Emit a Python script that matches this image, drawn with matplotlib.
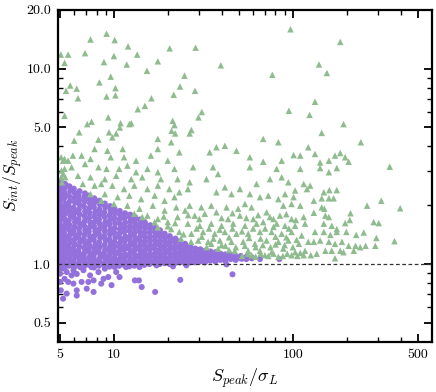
import numpy as np
import matplotlib
matplotlib.use("Agg")
import matplotlib.pyplot as plt
from matplotlib.ticker import FixedLocator, FixedFormatter, NullFormatter

plt.rcParams["font.family"] = "serif"
plt.rcParams["font.serif"] = ["cmr10"]
plt.rcParams["mathtext.fontset"] = "cm"
plt.rcParams["axes.unicode_minus"] = False

# resolved sources (S_peak/sigma, S_int/S_peak)
resolved = [
    (9.1, 15.1), (7.4, 14.1), (10.1, 14.0), (12.0, 13.0), (20.5, 12.7), (5.05, 11.8), (5.55, 11.8),
    (6.9, 12.0), (10.0, 11.6), (13.5, 11.8), (5.3, 10.7), (8.8, 10.8), (11.8, 10.5), (17.6, 10.9),
    (15.3, 9.75), (9.6, 9.1), (8.3, 8.5), (5.7, 8.2), (5.4, 7.7), (6.2, 7.9), (10.2, 7.95),
    (6.3, 7.05), (9.1, 7.2), (10.2, 7.3), (16.2, 7.05), (14.9, 6.45), (13.6, 6.2), (21.6, 7.35),
    (23.4, 8.1), (24.8, 9.2), (5.3, 5.74), (9.3, 5.63), (7.5, 5.35), (7.1, 5.2), (10.9, 5.26),
    (12.5, 5.26), (12.2, 5.2), (10.8, 5.0), (6.4, 4.72), (9.4, 4.72), (10.3, 4.66), (21.3, 5.41),
    (21.8, 5.14), (21.0, 4.81), (22.0, 4.66),
    (97, 15.9), (28.6, 12.8), (39.6, 10.4), (76.8, 9.3), (28.4, 7.7), (31.0, 6.0), (29.7, 5.63),
    (95, 6.09), (124, 5.8), (27.1, 4.85), (26.5, 4.66),
    (184, 13.7), (140, 10.5), (155, 9.5), (133, 6.77), (192, 5.2), (145, 4.69),
    (6.0, 4.28), (8.2, 4.33), (9.8, 4.45), (17.6, 4.37), (20.9, 4.2), (7.8, 3.88), (11.2, 3.88),
    (9.2, 3.80), (5.3, 3.45), (5.9, 3.59), (6.6, 3.59), (7.4, 3.45), (9.6, 3.52), (11.4, 3.52),
    (13.3, 3.38), (16.1, 3.59), (17.6, 3.88), (20.0, 3.38), (23.2, 3.73), (5.3, 3.07), (5.8, 3.13),
    (6.9, 3.25), (8.2, 3.13), (9.1, 3.07), (10.7, 3.07), (11.9, 3.19), (13.3, 2.95), (15.4, 3.07),
    (17.6, 2.95), (21.8, 3.07), (6.3, 2.83), (7.4, 2.78), (8.9, 2.72), (10.3, 2.83), (12.5, 2.72),
    (14.4, 2.78), (18.3, 2.72), (22.7, 2.72), (5.2, 2.89), (6.7, 2.57), (7.8, 2.52), (8.5, 2.57),
    (9.8, 2.52), (11.4, 2.42), (13.0, 2.52), (15.4, 2.42), (17.6, 2.52), (20.4, 2.42), (23.2, 2.33),
    (7.4, 2.28), (8.9, 2.28), (10.5, 2.20), (12.2, 2.24), (14.2, 2.15), (16.9, 2.24), (19.2, 2.11),
    (21.8, 2.20), (8.5, 2.11), (10.0, 2.03), (11.9, 1.99), (13.9, 1.92), (16.5, 1.99), (19.2, 1.88),
    (22.3, 1.95), (13.0, 1.81), (15.4, 1.77), (17.6, 1.70), (20.0, 1.64), (22.7, 1.74), (17.6, 1.54),
    (20.9, 1.51), (23.2, 1.46), (23.7, 1.35), (16.9, 1.64), (14.4, 1.74),
    (5.07, 3.52), (5.2, 3.38), (5.1, 3.01), (5.35, 2.78), (5.55, 3.38), (5.08, 2.78), (5.12, 2.62),
    (68.3, 4.37), (83, 4.2), (37.4, 3.96), (41.7, 4.03), (48.4, 3.80), (34.3, 3.73), (57.5, 3.52),
    (68.3, 3.34), (86.6, 3.38), (101, 3.61), (110, 3.59), (122, 3.96), (27.7, 3.13), (35.8, 3.13),
    (38.2, 2.89), (57.5, 3.13), (81.2, 3.07), (110, 3.07), (74.5, 2.72), (86.6, 2.78), (94.4, 2.62),
    (26.5, 2.62), (32.9, 2.72), (41.7, 2.47), (50.6, 2.42), (62.7, 2.57), (72.9, 2.24), (90.4, 2.28),
    (103, 2.38), (115, 2.57), (25.9, 2.42), (37.4, 2.33), (45.4, 2.28), (57.5, 2.28), (65.5, 2.20),
    (83, 2.15), (101, 2.20), (120, 2.42), (26.5, 1.99), (30.8, 1.95), (35.0, 1.99), (42.6, 1.95),
    (49.5, 1.92), (54.0, 2.03), (58.8, 1.95), (71.3, 1.84), (88.5, 1.99), (98.4, 2.03), (110, 1.99),
    (28.3, 1.77), (32.2, 1.81), (37.4, 1.84), (43.5, 1.70), (50.6, 1.77), (60.1, 1.70), (74.5, 1.74),
    (84.7, 1.77), (98.4, 1.70), (115, 1.74), (25.9, 1.61), (30.2, 1.57), (35.0, 1.61), (40.0, 1.57),
    (46.4, 1.61), (54.0, 1.57), (62.7, 1.61), (68.3, 1.64), (81.2, 1.61), (90.4, 1.57), (103, 1.57),
    (117, 1.61), (27.1, 1.43), (31.5, 1.46), (36.6, 1.43), (41.7, 1.46), (48.4, 1.43), (56.3, 1.43),
    (65.5, 1.46), (76.1, 1.46), (86.6, 1.43), (98.4, 1.46), (112, 1.40), (29.6, 1.32), (33.6, 1.30),
    (39.1, 1.32), (45.4, 1.30), (52.8, 1.30), (61.4, 1.27), (71.3, 1.32), (83, 1.30), (94.4, 1.32),
    (108, 1.27), (122, 1.30), (38.2, 1.20), (47.4, 1.17), (56.3, 1.17), (65.5, 1.17), (76.1, 1.15),
    (88.5, 1.20), (103, 1.15), (117, 1.17), (58.8, 1.11), (69.8, 1.11), (83, 1.09), (98.4, 1.11),
    (115, 1.11),
    (240, 4.2), (133, 3.66), (172, 3.59), (184, 3.70), (196, 3.52), (205, 3.34), (142, 3.31),
    (159, 3.38), (142, 3.10), (176, 3.10), (159, 2.95), (348, 3.15), (125, 2.52), (149, 2.33),
    (160, 2.39), (176, 2.39), (145, 2.17), (159, 2.17), (169, 2.17), (131, 2.11), (260, 1.99),
    (312, 2.11), (398, 1.93), (145, 1.95), (150, 1.92), (131, 1.83), (152, 1.77), (159, 1.74),
    (210, 1.82), (208, 1.68), (196, 1.62), (283, 1.64), (302, 1.62), (149, 1.61), (165, 1.57),
    (176, 1.51), (133, 1.46), (149, 1.46), (162, 1.41), (176, 1.46), (199, 1.46), (226, 1.41),
    (249, 1.45), (293, 1.36), (370, 1.31), (131, 1.30), (142, 1.32), (159, 1.30), (172, 1.27),
    (188, 1.30), (205, 1.24), (224, 1.24), (238, 1.22), (255, 1.24), (289, 1.24), (136, 1.13),
    (152, 1.17), (165, 1.17), (184, 1.17), (192, 1.15), (219, 1.17), (172, 1.07),
    # dense band just above the compact sources
    (52, 1.10), (56, 1.13), (62, 1.09), (66, 1.13), (73, 1.10), (78, 1.13), (88, 1.10), (93, 1.13),
    (106, 1.10), (110, 1.14), (126, 1.11), (42, 1.24), (48, 1.22), (54, 1.24), (62, 1.22), (68, 1.25),
    (75, 1.22), (80, 1.26), (90, 1.25), (100, 1.22), (105, 1.33), (35, 1.27), (31, 1.38), (36, 1.35),
    (44, 1.37), (57, 1.36), (66, 1.35), (80, 1.38), (92, 1.37), (27, 1.30), (24.5, 1.42), (33, 1.22),
    (44, 1.18), (40, 1.25), (29, 1.52), (34, 1.52), (39, 1.50), (46, 1.52), (52, 1.47), (60, 1.52),
    (70, 1.52), (78, 1.55), (95, 1.52), (26, 1.78), (30, 1.70), (40, 1.72), (46, 1.82), (55, 1.72),
    (64, 1.78), (78, 1.70), (92, 1.80), (104, 1.68), (20, 1.56), (22, 1.62), (19, 1.75), (25, 1.88),
]

# compact sources
compact = [
    (5.02, 0.97), (5.06, 1.01), (4.99, 1.05), (5.05, 1.1), (5.01, 1.15), (5.07, 1.21), (5.0, 1.27),
    (5.04, 1.34), (5.08, 1.41), (5.01, 1.49), (5.05, 1.57), (4.99, 1.66), (5.06, 1.76), (5.02, 1.86),
    (5.07, 1.97), (5.0, 2.09), (5.04, 2.22), (5.06, 2.36), (5.01, 2.5), (5.03, 2.64),
    (5.28, 0.95), (5.33, 0.99), (5.25, 1.03), (5.31, 1.07), (5.36, 1.12), (5.27, 1.18), (5.34, 1.24),
    (5.29, 1.31), (5.35, 1.38), (5.26, 1.45), (5.32, 1.53), (5.37, 1.62), (5.28, 1.71), (5.33, 1.81),
    (5.3, 1.92), (5.36, 2.04), (5.27, 2.17), (5.32, 2.3), (5.29, 2.44), (5.34, 2.57),
    (5.6, 0.98), (5.68, 1.02), (5.62, 1.06), (5.7, 1.11), (5.64, 1.16), (5.58, 1.22), (5.67, 1.28),
    (5.61, 1.35), (5.69, 1.42), (5.63, 1.5), (5.66, 1.58), (5.6, 1.67), (5.71, 1.77), (5.65, 1.87),
    (5.59, 1.98), (5.68, 2.1), (5.62, 2.23), (5.7, 2.37), (5.64, 2.5),
    (5.98, 0.96), (6.04, 1.0), (5.95, 1.04), (6.07, 1.09), (6.0, 1.14), (5.93, 1.2), (6.05, 1.26),
    (5.99, 1.33), (6.08, 1.4), (5.96, 1.47), (6.02, 1.55), (6.06, 1.64), (5.97, 1.73), (6.03, 1.83),
    (5.95, 1.94), (6.07, 2.06), (6.0, 2.18), (6.04, 2.31), (5.97, 2.43),
    (6.36, 0.99), (6.44, 1.03), (6.38, 1.07), (6.46, 1.12), (6.33, 1.17), (6.41, 1.23), (6.47, 1.3),
    (6.35, 1.37), (6.43, 1.44), (6.39, 1.52), (6.45, 1.61), (6.34, 1.7), (6.42, 1.8), (6.37, 1.9),
    (6.44, 2.01), (6.4, 2.13), (6.35, 2.25), (6.43, 2.36),
    (6.8, 0.97), (6.9, 1.01), (6.83, 1.05), (6.78, 1.1), (6.88, 1.15), (6.82, 1.21), (6.92, 1.27),
    (6.79, 1.34), (6.86, 1.41), (6.91, 1.49), (6.81, 1.57), (6.87, 1.66), (6.84, 1.76), (6.9, 1.86),
    (6.8, 1.97), (6.86, 2.09), (6.83, 2.2), (6.89, 2.3),
    (7.25, 0.99), (7.35, 1.03), (7.28, 1.08), (7.38, 1.13), (7.22, 1.18), (7.32, 1.24), (7.27, 1.31),
    (7.36, 1.38), (7.24, 1.46), (7.31, 1.54), (7.37, 1.63), (7.26, 1.72), (7.33, 1.82), (7.29, 1.93),
    (7.35, 2.04), (7.3, 2.15), (7.25, 2.24),
    (7.74, 0.96), (7.85, 1.0), (7.78, 1.04), (7.7, 1.09), (7.82, 1.14), (7.76, 1.2), (7.88, 1.26),
    (7.72, 1.33), (7.8, 1.4), (7.86, 1.48), (7.75, 1.56), (7.83, 1.65), (7.79, 1.75), (7.87, 1.85),
    (7.73, 1.96), (7.81, 2.07), (7.77, 2.17),
    (8.25, 0.98), (8.36, 1.02), (8.28, 1.06), (8.4, 1.11), (8.22, 1.16), (8.33, 1.22), (8.27, 1.29),
    (8.38, 1.36), (8.24, 1.43), (8.31, 1.51), (8.35, 1.6), (8.26, 1.69), (8.34, 1.79), (8.29, 1.9),
    (8.37, 2.01), (8.3, 2.11),
    (8.84, 0.99), (8.96, 1.03), (8.87, 1.08), (8.8, 1.13), (8.93, 1.18), (8.86, 1.25), (8.98, 1.32),
    (8.82, 1.39), (8.91, 1.47), (8.85, 1.55), (8.95, 1.64), (8.88, 1.74), (8.83, 1.84), (8.94, 1.95),
    (8.89, 2.04),
    (9.44, 0.97), (9.56, 1.01), (9.48, 1.05), (9.4, 1.1), (9.53, 1.15), (9.46, 1.21), (9.58, 1.27),
    (9.42, 1.34), (9.51, 1.42), (9.55, 1.5), (9.45, 1.59), (9.52, 1.68), (9.47, 1.78), (9.57, 1.88),
    (9.5, 1.98),
    (10.0, 0.99), (10.2, 1.03), (10.05, 1.07), (10.15, 1.12), (9.98, 1.17), (10.12, 1.23), (10.06, 1.3),
    (10.18, 1.37), (10.02, 1.45), (10.1, 1.53), (10.16, 1.62), (10.04, 1.72), (10.13, 1.82), (10.08, 1.92),
    (10.7, 0.98), (10.88, 1.02), (10.75, 1.06), (10.9, 1.11), (10.68, 1.16), (10.82, 1.22), (10.77, 1.28),
    (10.86, 1.35), (10.72, 1.43), (10.8, 1.51), (10.84, 1.6), (10.74, 1.69), (10.83, 1.78), (10.78, 1.87),
    (11.4, 0.99), (11.6, 1.03), (11.45, 1.07), (11.55, 1.12), (11.38, 1.18), (11.52, 1.24), (11.47, 1.31),
    (11.58, 1.38), (11.42, 1.46), (11.5, 1.54), (11.56, 1.63), (11.44, 1.72), (11.53, 1.82),
    (12.2, 1.0), (12.4, 1.04), (12.25, 1.09), (12.35, 1.14), (12.15, 1.2), (12.32, 1.26), (12.27, 1.33),
    (12.38, 1.4), (12.22, 1.48), (12.3, 1.56), (12.36, 1.65), (12.24, 1.74), (12.33, 1.79),
    (13.0, 0.98), (13.2, 1.02), (13.05, 1.06), (13.15, 1.11), (12.98, 1.17), (13.12, 1.23), (13.07, 1.29),
    (13.18, 1.36), (13.02, 1.44), (13.1, 1.52), (13.16, 1.6), (13.04, 1.68), (13.13, 1.74),
    (13.9, 1.0), (14.1, 1.04), (13.95, 1.08), (14.05, 1.13), (13.88, 1.19), (14.02, 1.25), (13.97, 1.32),
    (14.08, 1.39), (13.92, 1.47), (14.0, 1.55), (14.06, 1.63), (13.96, 1.69),
    (14.8, 0.99), (15.0, 1.03), (14.85, 1.07), (14.95, 1.12), (14.78, 1.17), (14.92, 1.23), (14.87, 1.3),
    (14.98, 1.37), (14.82, 1.45), (14.9, 1.53), (14.96, 1.6), (14.86, 1.64),
    (15.8, 1.0), (16.0, 1.04), (15.85, 1.08), (15.95, 1.13), (15.75, 1.19), (15.92, 1.25), (15.87, 1.31),
    (15.98, 1.38), (15.82, 1.45), (15.9, 1.52), (15.96, 1.58),
    (16.9, 1.01), (17.1, 1.05), (16.95, 1.09), (17.05, 1.14), (16.85, 1.2), (17.02, 1.26), (16.97, 1.32),
    (17.08, 1.39), (16.92, 1.46), (17.0, 1.53),
    (18.0, 1.0), (18.2, 1.04), (18.05, 1.08), (18.15, 1.13), (17.95, 1.18), (18.12, 1.24), (18.07, 1.3),
    (18.18, 1.37), (18.02, 1.44), (18.1, 1.49),
    (19.2, 1.01), (19.4, 1.05), (19.25, 1.09), (19.35, 1.14), (19.15, 1.19), (19.32, 1.25), (19.27, 1.31),
    (19.38, 1.37), (19.22, 1.43),
    (20.5, 1.0), (20.7, 1.04), (20.55, 1.08), (20.65, 1.13), (20.45, 1.18), (20.62, 1.23), (20.57, 1.29),
    (20.68, 1.35), (20.52, 1.39),
    (21.9, 1.01), (22.1, 1.05), (21.95, 1.09), (22.05, 1.14), (21.85, 1.19), (22.02, 1.24), (21.97, 1.3),
    (22.08, 1.35),
    (23.4, 1.02), (23.6, 1.06), (23.45, 1.1), (23.55, 1.15), (23.35, 1.2), (23.52, 1.25), (23.47, 1.31),
    (24.9, 1.01), (25.1, 1.05), (24.95, 1.09), (25.05, 1.14), (24.85, 1.19), (25.02, 1.23), (24.97, 1.27),
    (26.6, 1.02), (26.8, 1.06), (26.65, 1.1), (26.75, 1.15), (26.55, 1.19), (26.7, 1.23),
    (28.4, 1.02), (28.6, 1.06), (28.45, 1.1), (28.55, 1.15), (28.5, 1.2),
    (30.3, 1.03), (30.5, 1.07), (30.35, 1.11), (30.45, 1.15), (30.4, 1.19),
    (32.3, 1.02), (32.5, 1.06), (32.35, 1.1), (32.45, 1.14), (32.4, 1.17),
    (34.5, 1.04), (34.7, 1.08), (34.55, 1.12), (34.65, 1.16),
    (36.9, 1.03), (37.1, 1.07), (36.95, 1.11), (37.05, 1.15),
    (39.4, 1.05), (39.6, 1.09), (39.45, 1.13), (41.9, 1.04), (42.1, 1.08), (41.95, 1.12),
    (44.9, 1.06), (45.1, 1.1), (44.95, 1.12), (47.9, 1.05), (48.1, 1.09), (50.9, 1.07), (51.1, 1.1),
    (54.9, 1.06), (55.1, 1.09), (58.9, 1.07), (59.2, 1.08), (65.5, 1.06), (84, 1.06), (52, 1.065),
    # below the unity line
    (5.1, 0.947), (5.45, 0.91), (5.8, 0.875), (5.3, 0.84), (6.2, 0.89), (6.76, 0.93), (7.36, 0.875),
    (7.7, 0.825), (8.2, 0.91), (8.5, 0.794), (9.3, 0.858), (9.7, 0.78), (10.3, 0.91), (11.7, 0.965),
    (5.55, 0.81), (6.2, 0.734), (7.05, 0.748), (5.45, 0.706), (6.2, 0.69), (7.7, 0.72), (5.2, 0.665),
    (13.1, 0.825), (13.8, 0.825), (14.3, 0.763), (17.0, 0.72), (23.5, 0.83), (46, 0.886),
    (5.94, 0.794), (6.6, 0.81), (7.2, 0.81), (8.75, 0.84), (10.75, 0.858), (7.5, 0.965), (8.9, 0.947),
    (10.1, 0.965), (12.2, 0.973), (13.9, 0.965), (17.3, 0.985), (21.4, 0.973), (25.4, 0.985),
    (5.0, 0.893), (5.0, 0.81), (5.05, 0.734), (5.94, 0.93), (6.47, 0.965), (42.6, 0.996),
]

x_ticks = [5, 10, 100, 500]
x_labels = ["5", "10", "100", "500"]
y_ticks = [0.5, 1.0, 5.0, 10.0, 20.0]
y_labels = ["0.5", "1.0", "5.0", "10.0", "20.0"]

res_x, res_y = zip(*resolved)
cmp_x, cmp_y = zip(*compact)

fig = plt.figure(figsize=(4.36, 3.92), dpi=100)
ax = fig.add_axes([0.133, 0.128, 0.858, 0.847])

ax.scatter(cmp_x, cmp_y, s=19, marker="o", color="#9370DB", edgecolors="none", zorder=2)
ax.scatter(res_x, res_y, s=22, marker="^", color="#8FBC8F", edgecolors="none", zorder=2)
ax.axhline(1.0, color="#333333", ls="--", lw=0.9, dashes=(3, 2), zorder=3)

ax.set_xscale("log")
ax.set_yscale("log")
ax.set_xlim(4.87, 600)
ax.set_ylim(0.4, 20)

ax.xaxis.set_major_locator(FixedLocator(x_ticks))
ax.xaxis.set_major_formatter(FixedFormatter(x_labels))
ax.xaxis.set_minor_locator(FixedLocator([6, 7, 8, 9, 20, 30, 40, 50, 60, 70, 80, 90, 200, 300, 400]))
ax.xaxis.set_minor_formatter(NullFormatter())
ax.yaxis.set_major_locator(FixedLocator(y_ticks))
ax.yaxis.set_major_formatter(FixedFormatter(y_labels))
ax.yaxis.set_minor_locator(FixedLocator([0.6, 0.7, 0.8, 0.9, 2, 3, 4, 6, 7, 8, 9]))
ax.yaxis.set_minor_formatter(NullFormatter())

ax.tick_params(which="both", direction="in", top=True, right=True, labelsize=10)
ax.tick_params(which="major", length=6, width=1.3, pad=5)
ax.tick_params(which="minor", length=3.5, width=1.0)
for sp in ax.spines.values():
    sp.set_linewidth(1.6)

ax.set_xlabel(r"$S_{peak}/\sigma_L$", fontsize=13, labelpad=4)
ax.set_ylabel(r"$S_{int}/S_{peak}$", fontsize=12.5, labelpad=1)

fig.savefig("out.png", dpi=100)
